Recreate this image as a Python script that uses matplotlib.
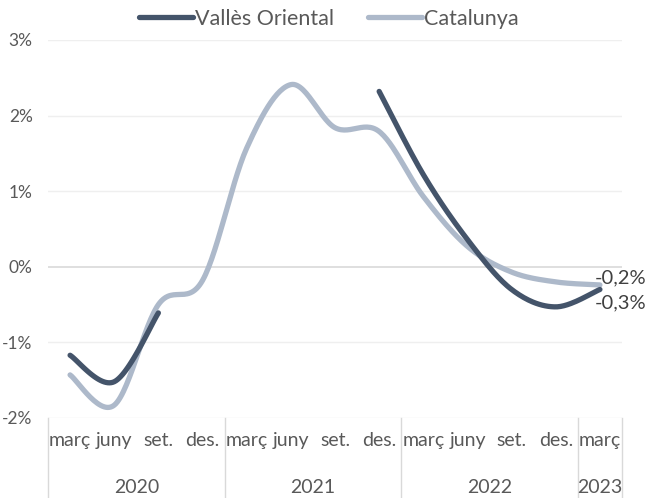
import matplotlib.pyplot as plt
import matplotlib.transforms as mtransforms
import numpy as np

plt.rcParams['font.family'] = ['Lato', 'DejaVu Sans']

months = ['març', 'juny', 'set.', 'des.'] * 3 + ['març']
years = ['2020', '2021', '2022', '2023']
year_sizes = [4, 4, 4, 1]

valles = [-1.17, -1.52, -0.61, np.nan, np.nan, np.nan, np.nan,
          2.32, 1.22, 0.36, -0.30, -0.53, -0.30]
catalunya = [-1.43, -1.83, -0.50, -0.18, 1.57, 2.41, 1.84, 1.79,
             0.93, 0.27, -0.07, -0.20, -0.24]

DARK = '#44546a'
LIGHT = '#adb9ca'
TXT = '#595959'


# smoothed line like excel (cubic bezier through the points)
def smooth(xs, ys, n=30):
    xs = np.asarray(xs, float)
    ys = np.asarray(ys, float)
    if len(xs) < 2:
        return xs, ys
    px = np.concatenate([[xs[0]], xs, [xs[-1]]])
    py = np.concatenate([[ys[0]], ys, [ys[-1]]])
    outx, outy = [], []
    t = np.linspace(0, 1, n)
    for i in range(1, len(px) - 2):
        p0 = np.array([px[i], py[i]])
        p3 = np.array([px[i + 1], py[i + 1]])
        c1 = p0 + (np.array([px[i + 1], py[i + 1]]) - np.array([px[i - 1], py[i - 1]])) / 6
        c2 = p3 - (np.array([px[i + 2], py[i + 2]]) - np.array([px[i], py[i]])) / 6
        b = ((1 - t) ** 3)[:, None] * p0 + (3 * (1 - t) ** 2 * t)[:, None] * c1 \
            + (3 * (1 - t) * t ** 2)[:, None] * c2 + (t ** 3)[:, None] * p3
        outx.extend(b[:, 0])
        outy.extend(b[:, 1])
    return np.array(outx), np.array(outy)


def plot_smooth(ax, values, label, **kw):
    vals = np.asarray(values, float)
    x = np.arange(len(vals))
    ok = ~np.isnan(vals)
    # split into contiguous segments
    seg = []
    for i in range(len(vals) + 1):
        if i < len(vals) and ok[i]:
            seg.append(i)
        elif seg:
            sx, sy = smooth(x[seg], vals[seg])
            ax.plot(sx, sy, label=label, **kw)
            label = None
            seg = []


fig = plt.figure(figsize=(6.48, 4.98), dpi=100)
ax = fig.add_axes([48 / 648, 1 - 418 / 498, 574 / 648, 378 / 498])

plot_smooth(ax, valles, 'Vallès Oriental', color=DARK, lw=3.8, solid_capstyle='round', zorder=3)
plot_smooth(ax, catalunya, 'Catalunya', color=LIGHT, lw=3.8, solid_capstyle='round', zorder=2)

ax.set_xlim(-0.5, len(months) - 0.5)
ax.set_ylim(-2, 3)
ax.set_yticks(range(-2, 4))
ax.set_yticklabels([f'{v}%' for v in range(-2, 4)], color=TXT, fontsize=12.5)
ax.tick_params(axis='y', length=0, pad=11)
for v in range(-2, 4):
    ax.axhline(v, color='#d9d9d9' if v == 0 else '#efefef', lw=1.2 if v == 0 else 1, zorder=0)
for s in ax.spines.values():
    s.set_visible(False)

ax.set_xticks(range(len(months)))
ax.set_xticklabels(months, color=TXT, fontsize=14)
ax.tick_params(axis='x', length=0, pad=10)

# year labels and separators
trans = mtransforms.blended_transform_factory(ax.transData, ax.transAxes)
start = -0.5
bounds = [start]
for y, n in zip(years, year_sizes):
    ax.text(start + n / 2, -0.183, y, transform=trans, ha='center', va='center',
            color=TXT, fontsize=14)
    start += n
    bounds.append(start)
for b in bounds:
    ax.plot([b, b], [0, -0.215], transform=trans, color='#d9d9d9', lw=1, clip_on=False)

# end labels
last = len(months) - 1
ax.text(last - 0.11, catalunya[-1] + 0.095, '-0,2%', ha='left', va='center', fontsize=14.5, color='#404040')
ax.text(last - 0.11, valles[-1] - 0.175, '-0,3%', ha='left', va='center', fontsize=14.5, color='#404040')

fig.legend(loc='center', bbox_to_anchor=(329 / 648, 1 - 19 / 498), ncol=2, frameon=False,
           fontsize=15.5, handlelength=2.5, handletextpad=0.1, columnspacing=1.6,
           labelcolor=TXT)

fig.savefig('out.png', dpi=100)
